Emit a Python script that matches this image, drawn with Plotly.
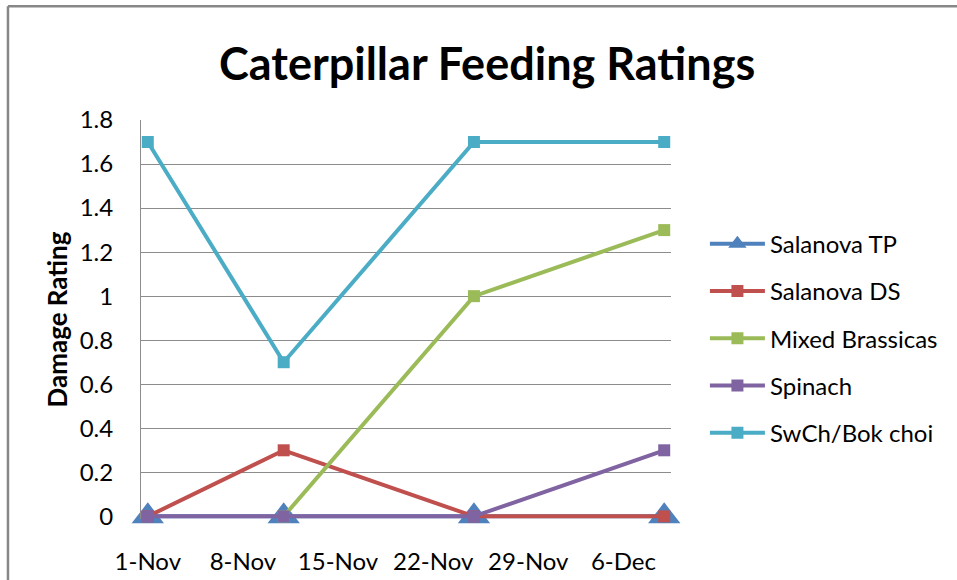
import plotly.graph_objects as go

# 관측일
dates = ["2012-11-01", "2012-11-11", "2012-11-25", "2012-12-09"]

salanova_tp = [0, 0, 0, 0]
salanova_ds = [0, 0.3, 0, 0]
mixed_brassicas = [None, 0, 1.0, 1.3]
spinach = [0, 0, 0, 0.3]
swch_bok_choi = [1.7, 0.7, 1.7, 1.7]

tick_dates = ["2012-11-01", "2012-11-08", "2012-11-15", "2012-11-22", "2012-11-29", "2012-12-06"]
tick_labels = ["1-Nov", "8-Nov", "15-Nov", "22-Nov", "29-Nov", "6-Dec"]

series = [
    ("Salanova TP", salanova_tp, "#4F81BD", "triangle-up", 28),
    ("Salanova DS", salanova_ds, "#C0504D", "square", 12),
    ("Mixed Brassicas", mixed_brassicas, "#9BBB59", "square", 12),
    ("Spinach", spinach, "#8064A2", "square", 12),
    ("SwCh/Bok choi", swch_bok_choi, "#4BACC6", "square", 12),
]

FONT = "Lato, Carlito, Calibri, sans-serif"
GRID = "#8C8C8C"

fig = go.Figure()
for name, vals, color, sym, size in series:
    fig.add_trace(go.Scatter(
        x=dates, y=vals, name=name, mode="lines+markers",
        line=dict(color=color, width=4),
        marker=dict(symbol=sym, size=size, color=color),
        legendgroup=name, connectgaps=False, cliponaxis=False,
    ))

# 차트 테두리 (왼쪽, 위쪽만 보임)
fig.add_shape(type="line", xref="paper", yref="paper",
              x0=-0.251, y0=1.285, x1=-0.251, y1=-0.3,
              line=dict(color="#878787", width=2.5))
fig.add_shape(type="line", xref="paper", yref="paper",
              x0=-0.251, y0=1.285, x1=1.7, y1=1.285,
              line=dict(color="#878787", width=2.5))

fig.update_layout(
    width=957, height=580,
    margin=dict(l=141, r=286, t=120, b=61),
    paper_bgcolor="white", plot_bgcolor="white",
    font=dict(family=FONT, size=24, color="black"),
    title=dict(text="<b>Caterpillar Feeding Ratings</b>", x=0.509, xanchor="center",
               y=0.89, yanchor="middle", font=dict(size=45, family=FONT, color="black")),
    xaxis=dict(
        type="date", range=["2012-10-31 12:00", "2012-12-09 12:00"],
        tickvals=tick_dates, ticktext=tick_labels,
        showgrid=False, showline=False, zeroline=False,
        ticks="", ticklabelstandoff=26, automargin=False,
        tickfont=dict(size=24, family=FONT),
    ),
    yaxis=dict(
        # 0 선이 잘리지 않도록 아래쪽을 조금 넓힘
        range=[-0.012, 1.8], tickvals=[0, 0.2, 0.4, 0.6, 0.8, 1, 1.2, 1.4, 1.6, 1.8],
        tickformat="~g",
        showgrid=True, gridcolor=GRID, gridwidth=1,
        showline=True, linecolor=GRID, linewidth=1,
        zeroline=False, ticks="", ticklabelstandoff=22, automargin=False,
        tickfont=dict(size=24, family=FONT),
        title=dict(text="<b>Damage Rating</b>", font=dict(size=26, family=FONT), standoff=4),
    ),
    legend=dict(
        x=1.064, xanchor="left", y=0.453, yanchor="middle",
        font=dict(size=24, family=FONT), tracegroupgap=13,
        itemwidth=55, bgcolor="rgba(0,0,0,0)",
    ),
    showlegend=True,
)

# 페이지 기본 여백 제거
fig.write_html("out.html", config={"displayModeBar": False},
               post_script="document.body.style.margin='0';")
